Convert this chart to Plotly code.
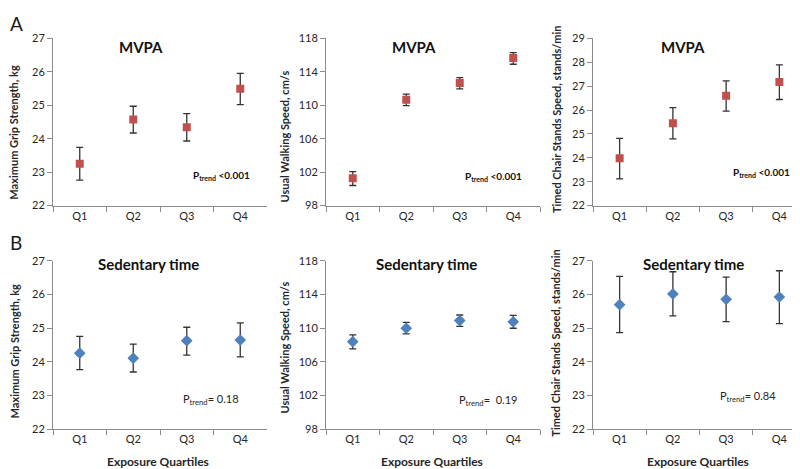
import plotly.graph_objects as go

W, H = 800, 469
quartiles = ["Q1", "Q2", "Q3", "Q4"]

# MVPA (row A)
mvpa_grip = [23.25, 24.57, 24.34, 25.49]
mvpa_grip_hi = [23.74, 24.97, 24.75, 25.95]
mvpa_grip_lo = [22.76, 24.17, 23.93, 25.02]

mvpa_walk = [101.26, 110.64, 112.65, 115.64]
mvpa_walk_hi = [102.07, 111.33, 113.31, 116.29]
mvpa_walk_lo = [100.40, 109.94, 111.95, 114.90]

mvpa_chair = [23.98, 25.45, 26.60, 27.17]
mvpa_chair_hi = [24.81, 26.10, 27.22, 27.89]
mvpa_chair_lo = [23.12, 24.79, 25.95, 26.44]

# Sedentary time (row B)
sed_grip = [24.26, 24.11, 24.63, 24.65]
sed_grip_hi = [24.76, 24.53, 25.03, 25.16]
sed_grip_lo = [23.77, 23.70, 24.20, 24.15]

sed_walk = [108.41, 110.00, 110.92, 110.77]
sed_walk_hi = [109.22, 110.69, 111.58, 111.54]
sed_walk_lo = [107.56, 109.33, 110.22, 110.00]

sed_chair = [25.70, 26.02, 25.86, 25.93]
sed_chair_hi = [26.54, 26.68, 26.52, 26.71]
sed_chair_lo = [24.87, 25.37, 25.20, 25.14]

y_titles = ["Maximum Grip Strength, kg", "Usual Walking Speed, cm/s",
            "Timed Chair Stands Speed, stands/min"]
y_ranges = [(22, 27), (98, 118), (22, 29), (22, 27), (98, 118), (22, 27)]
y_dticks = [1, 4, 1, 1, 4, 1]
p_trend_top = ["<0.001", "<0.001", "<0.001"]
p_trend_bot = ["= 0.18", "=  0.19", "= 0.84"]

FONT = "Lato"
TXT = "#262626"
RED = "#C0504D"
BLUE = "#4F81BD"

def px(x):
    return x / W

def py(y):
    return 1 - y / H

panels = [
    (mvpa_grip, mvpa_grip_hi, mvpa_grip_lo, RED, "square"),
    (mvpa_walk, mvpa_walk_hi, mvpa_walk_lo, RED, "square"),
    (mvpa_chair, mvpa_chair_hi, mvpa_chair_lo, RED, "square"),
    (sed_grip, sed_grip_hi, sed_grip_lo, BLUE, "diamond"),
    (sed_walk, sed_walk_hi, sed_walk_lo, BLUE, "diamond"),
    (sed_chair, sed_chair_hi, sed_chair_lo, BLUE, "diamond"),
]

x_doms = [(45, 259), (318, 532), (585, 798)]
y_doms = [(24, 196), (253, 426)]

fig = go.Figure()
layout = dict(
    width=W, height=H, margin=dict(l=0, r=0, t=0, b=0),
    paper_bgcolor="white", plot_bgcolor="white", showlegend=False,
    font=dict(family=FONT, color=TXT),
)

for i, (m, hi, lo, col, sym) in enumerate(panels):
    row, c = divmod(i, 3)
    n = i + 1
    xa = "x" if n == 1 else f"x{n}"
    ya = "y" if n == 1 else f"y{n}"
    plus = [h - v for h, v in zip(hi, m)]
    minus = [v - l for v, l in zip(m, lo)]
    fig.add_trace(go.Scatter(
        x=quartiles, y=m, mode="markers", xaxis=xa, yaxis=ya,
        marker=dict(symbol=sym, size=8 if sym == "square" else 9, color=col),
        error_y=dict(type="data", symmetric=False, array=plus, arrayminus=minus,
                     color="#333333", thickness=1.3, width=3.5),
    ))
    x0, x1 = x_doms[c]
    y0, y1 = y_doms[row]
    layout[f"xaxis{'' if n == 1 else n}"] = dict(
        domain=[px(x0), px(x1)], anchor=ya, type="category",
        range=[-0.5, 3.5], showline=True, linecolor="#8c8c8c", linewidth=1,
        ticks="outside", tickson="boundaries", ticklen=5, tickcolor="#8c8c8c",
        showgrid=False, zeroline=False,
        tickfont=dict(family=FONT, size=11, color=TXT),
    )
    lo_r, hi_r = y_ranges[i]
    layout[f"yaxis{'' if n == 1 else n}"] = dict(
        domain=[py(y1), py(y0)], anchor=xa, range=[lo_r, hi_r],
        dtick=y_dticks[i], tick0=lo_r, showline=True, linecolor="#8c8c8c",
        linewidth=1, ticks="outside", ticklen=5, tickcolor="#8c8c8c",
        showgrid=False, zeroline=False,
        tickfont=dict(family=FONT, size=11, color=TXT),
    )

ann = []
# panel letters
ann.append(dict(x=px(0), y=py(9), text="A", xanchor="left", yanchor="middle",
                font=dict(size=19, color="#1a1a1a")))
ann.append(dict(x=px(0), y=py(234), text="B", xanchor="left", yanchor="middle",
                font=dict(size=19, color="#1a1a1a")))

# titles
for xc in (133, 406, 675):
    ann.append(dict(x=px(xc), y=py(33), text="<b>MVPA</b>", xanchor="center",
                    yanchor="middle", font=dict(size=15, color="#111111")))
for xc in (140, 418, 685):
    ann.append(dict(x=px(xc), y=py(256), text="<b>Sedentary time</b>",
                    xanchor="center", yanchor="middle",
                    font=dict(size=15, color="#111111")))

# y titles
yt_pos = [(6, 121), (277, 125), (548, 108), (6, 346), (277, 342), (548, 338)]
for i, (xc, yc) in enumerate(yt_pos):
    ann.append(dict(x=px(xc), y=py(yc), text=f"<b>{y_titles[i % 3]}</b>",
                    textangle=-90, xanchor="center", yanchor="middle",
                    font=dict(size=11, color=TXT)))

# p-trend (right edges of the text)
for (xr, yc), t in zip([(244, 165), (516, 166), (784, 162)], p_trend_top):
    ann.append(dict(x=px(xr), y=py(yc),
                    text=f"<b>P<sub>trend</sub> {t}</b>", xanchor="right",
                    yanchor="middle", font=dict(size=10, color="#111111")))
for (xc, yc), t in zip([(203, 395), (480, 397), (740, 392)], p_trend_bot):
    ann.append(dict(x=px(xc), y=py(yc), text=f"P<sub>trend</sub>{t}",
                    xanchor="center", yanchor="middle",
                    font=dict(size=11, color=TXT)))

# x titles
for xc in (150, 424, 690):
    ann.append(dict(x=px(xc), y=py(459), text="<b>Exposure Quartiles</b>",
                    xanchor="center", yanchor="middle",
                    font=dict(size=12, color=TXT)))

for a in ann:
    a.update(xref="paper", yref="paper", showarrow=False)
layout["annotations"] = ann

fig.update_layout(**layout)
fig.write_html("out.html")
